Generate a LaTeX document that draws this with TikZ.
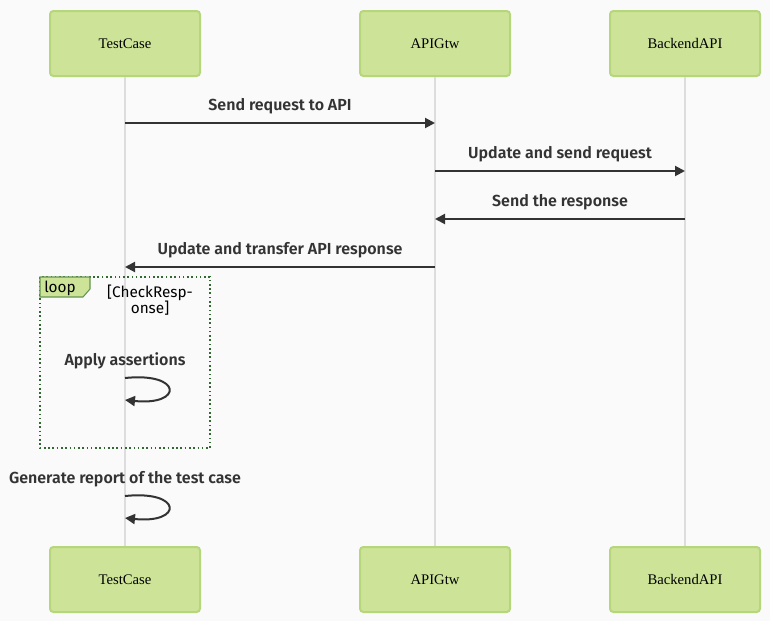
\documentclass[tikz,border=0pt]{standalone}
\usepackage{fontspec}
\setmainfont{Liberation Serif}
\newfontfamily\msgfont{Fira Sans}[BoldFont={Fira Sans SemiBold}]
\usetikzlibrary{arrows.meta,shapes.geometric}
\definecolor{actfill}{HTML}{CDE498}
\definecolor{actdraw}{HTML}{B5D67A}
\definecolor{lifeln}{HTML}{DDDDDD}
\definecolor{msgcol}{HTML}{333333}
\definecolor{loopcol}{HTML}{326932}
\definecolor{bgcol}{HTML}{FAFAFA}
\tikzset{
  actor/.style={draw=actdraw, fill=actfill, line width=1.5pt, rounded corners=2.5pt, minimum width=150*0.75pt, minimum height=65*0.75pt, inner sep=0pt, font=\fontsize{11}{13}\selectfont},
  lifeline/.style={draw=lifeln, line width=1.5pt},
  msg/.style={draw=msgcol, line width=1.5pt, -{Triangle[length=7.5pt,width=7.5pt]}},
  msglabel/.style={font=\msgfont\bfseries\fontsize{12}{14}\selectfont, text=msgcol, inner sep=0pt},
  looplabel/.style={font=\msgfont\fontsize{11.5}{13.5}\selectfont, text=black, inner sep=0pt},
}
\begin{document}
\begin{tikzpicture}[x=0.75pt,y=-0.75pt]
\fill[bgcol] (0,0) rectangle (770,621);
\useasboundingbox (0,0) rectangle (770,621);
% actors top
\node[actor] (tc1) at (125,43.5) {TestCase};
\node[actor] (ag1) at (435,43.5) {APIGtw};
\node[actor] (be1) at (685,43.5) {BackendAPI};
% actors bottom
\node[actor] (tc2) at (125,579.5) {TestCase};
\node[actor] (ag2) at (435,579.5) {APIGtw};
\node[actor] (be2) at (685,579.5) {BackendAPI};
% lifelines
\draw[lifeline] (tc1.south) -- (tc2.north);
\draw[lifeline] (ag1.south) -- (ag2.north);
\draw[lifeline] (be1.south) -- (be2.north);
% message anchor coordinates
\coordinate (m1a) at (125,123); \coordinate (m1b) at (435,123);
\coordinate (m2a) at (435,171); \coordinate (m2b) at (685,171);
\coordinate (m3a) at (685,219); \coordinate (m3b) at (435,219);
\coordinate (m4a) at (435,267); \coordinate (m4b) at (125,267);
\draw[msg] (m1a) -- (m1b);
\node[msglabel] (l1) at (280,106) {Send request to API};
\draw[msg] (m2a) -- (m2b);
\node[msglabel] (l2) at (560,154) {Update and send request};
\draw[msg] (m3a) -- (m3b);
\node[msglabel] (l3) at (560,202) {Send the response};
\draw[msg] (m4a) -- (m4b);
\node[msglabel] (l4) at (280,250) {Update and transfer API response};
% loop frame
\draw[loopcol, line width=1.2pt, dotted] (40,277) rectangle (210,448);
\draw[draw=loopcol!60!actdraw, fill=actfill, line width=0.8pt] (40,277) -- (90,277) -- (90,289) -- (83,297) -- (40,297) -- cycle;
\node[looplabel] (lp) at (60,288) {loop};
\node[looplabel, align=center] (cond) at (150,300) {[CheckResp-\\[-1pt]onse]};
% self message 1
\node[msglabel] (l5) at (125,361) {Apply assertions};
\coordinate (s1a) at (125,378); \coordinate (s1b) at (125,400);
\draw[msg] (s1a) .. controls (183,372) and (183,406) .. (s1b);
% self message 2
\node[msglabel] (l6) at (125,479) {Generate report of the test case};
\coordinate (s2a) at (125,496); \coordinate (s2b) at (125,518);
\draw[msg] (s2a) .. controls (183,490) and (183,524) .. (s2b);
\end{tikzpicture}
\end{document}
